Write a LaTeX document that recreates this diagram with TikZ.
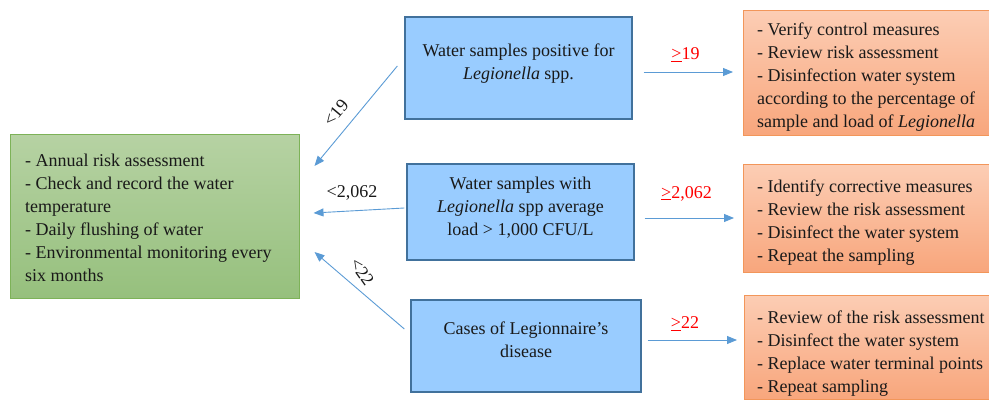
\documentclass[tikz,border=0pt]{standalone}
\usepackage{fontspec}
\setmainfont{Liberation Serif}
\usetikzlibrary{arrows.meta,calc}
\definecolor{arrowblue}{RGB}{91,155,213}
\definecolor{boxblue}{RGB}{153,204,255}
\definecolor{boxblueline}{RGB}{65,113,156}
\definecolor{greentop}{RGB}{182,210,163}
\definecolor{greenbot}{RGB}{150,192,125}
\definecolor{greenline}{RGB}{125,178,88}
\definecolor{orangetop}{RGB}{252,205,180}
\definecolor{orangebot}{RGB}{248,166,124}
\definecolor{orangeline}{RGB}{242,150,90}
\tikzset{
  x=1pt, y=-1pt,
  txt/.style={font=\fontsize{18}{23}\selectfont, text=black!90, inner sep=0pt},
  listtxt/.style={txt, align=left, anchor=west},
  bluebox/.style={draw=boxblueline, line width=1.3pt, fill=boxblue, inner sep=0pt},
  greenbox/.style={draw=greenline, line width=1pt, top color=greentop, bottom color=greenbot,
    inner sep=0pt, minimum width=289pt, minimum height=163pt},
  orangebox/.style={draw=orangeline, line width=1pt, top color=orangetop, bottom color=orangebot,
    inner sep=0pt, minimum width=270pt, anchor=west},
  arr/.style={draw=arrowblue, line width=0.9pt, -{Triangle[length=10pt,width=8pt]}},
  redlbl/.style={txt, text=red},
}
% "greater than or equal" written as an underlined >
\newcommand{\ulgt}{\underline{\smash{>}}}
\begin{document}
\begin{tikzpicture}
\useasboundingbox (0,0) rectangle (989,401);

% monitoring box on the left
\node[greenbox] (g) at (154.5,216.5) {};
\node[listtxt] (gt) at (25,218) {- Annual risk assessment\\
- Check and record the water\\ temperature\\
- Daily flushing of water\\
- Environmental monitoring every\\ six months};

% trigger boxes
\node[bluebox, minimum width=227pt, minimum height=102pt] (b1) at (518.5,68) {};
\node[txt, align=center] (b1t) at (518.5,64) {Water samples positive for\\ \textit{Legionella} spp.};
\node[bluebox, minimum width=227pt, minimum height=96pt] (b2) at (520.5,212) {};
\node[txt, align=center] (b2t) at (520.5,208) {Water samples with\\ \textit{Legionella} spp average\\ load > 1,000 CFU/L};
\node[bluebox, minimum width=230pt, minimum height=92pt] (b3) at (526,346) {};
\node[txt, align=center] (b3t) at (526,340) {Cases of Legionnaire’s\\ disease};

% action boxes on the right
\node[orangebox, minimum height=125pt] (o1) at (743,73.5) {};
\node[listtxt] (o1t) at (757,77) {- Verify control measures\\
- Review risk assessment\\
- Disinfection water system\\ according to the percentage of\\ sample and load of \textit{Legionella}};
\node[orangebox, minimum height=107pt] (o2) at (743,218.5) {};
\node[listtxt] (o2t) at (757,222.5) {- Identify corrective measures\\
- Review the risk assessment\\
- Disinfect the water system\\
- Repeat the sampling};
\node[orangebox, minimum height=104pt] (o3) at (744,347) {};
\node[listtxt] (o3t) at (757,353.5) {- Review of the risk assessment\\
- Disinfect the water system\\
- Replace water terminal points\\
- Repeat sampling};

% thresholds reached
\draw[arr] ($(b1.east)+(11,4)$) -- ($(o1.west)+(-10,-1.5)$);
\draw[arr] ($(b2.east)+(10,6)$) -- ($(o2.west)+(-9,-0.5)$);
\draw[arr] ($(b3.east)+(6,-6)$) -- ($(o3.west)+(-7,-7)$);
\node[redlbl] (l1) at (685.5,55) {\ulgt19};
\node[redlbl] (l2) at (686.5,193.5) {\ulgt2,062};
\node[redlbl] (l3) at (685,324) {\ulgt22};

% thresholds not reached
\draw[arr] ($(b1.west)+(-7,-2)$) -- ($(g.east)+(15,-50.5)$);
\draw[arr] ($(b2.west)+(-2,-4)$) -- ($(g.east)+(14,-3.5)$);
\draw[arr] ($(b3.west)+(-6,-17)$) -- ($(g.east)+(15,35.5)$);
\node[txt, rotate=50] (r1) at (336,113) {<19};
\node[txt] (r2) at (352,193) {<2,062};
\node[txt, rotate=-55] (r3) at (362,272) {<22};
\end{tikzpicture}
\end{document}
